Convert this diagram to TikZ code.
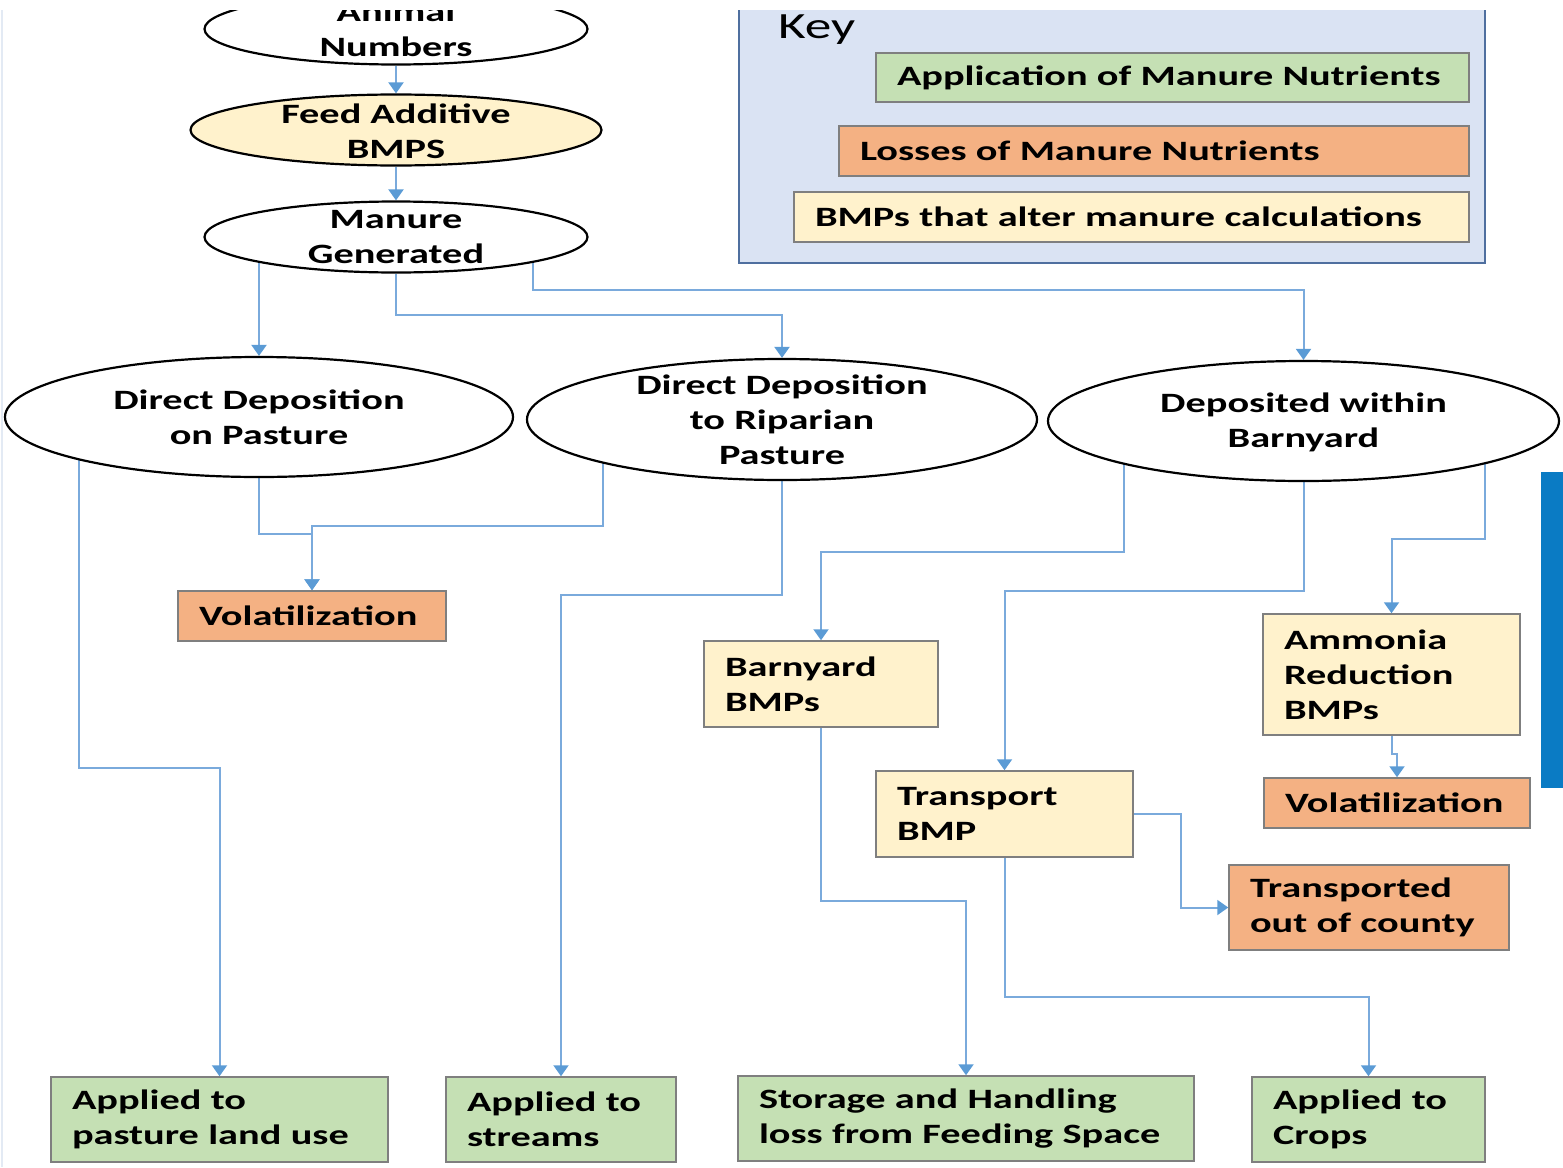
\documentclass[tikz,border=0pt]{standalone}
\usepackage{fontspec}
\setmainfont{Carlito}[FakeStretch=1.44]
\usetikzlibrary{arrows.meta,shapes.geometric}
\pgfdeclarelayer{bg}
\pgfsetlayers{bg,main}
\definecolor{gfill}{HTML}{C5E0B4}
\definecolor{ofill}{HTML}{F4B183}
\definecolor{yfill}{HTML}{FFF2CC}
\definecolor{keybg}{HTML}{DAE3F3}
\definecolor{keyline}{HTML}{4F6F9F}
\definecolor{boxline}{HTML}{7F7F7F}
\definecolor{connblue}{HTML}{7AAADC}
\definecolor{headblue}{HTML}{5B9BD5}
\definecolor{barblue}{HTML}{0A7BC4}
\definecolor{edgeline}{HTML}{E3EAF4}
\begin{document}
\begin{tikzpicture}[x=1pt,y=-1pt,
  ell/.style={ellipse, draw=black, line width=2.2pt, fill=white, inner sep=0pt},
  txt/.style={font=\fontsize{28}{35}\selectfont\bfseries, align=center, inner sep=0pt},
  lbox/.style={rectangle, draw=boxline, line width=1.5pt, inner xsep=21pt, inner ysep=0pt,
    align=left, font=\fontsize{28}{35}\selectfont\bfseries},
  conn/.style={draw=connblue, line width=2pt,
    -{Triangle[width=15pt,length=11pt,fill=headblue,color=headblue]}}]
\useasboundingbox (0,0) rectangle (1563,1167);
\begin{scope}
\clip (0,10) rectangle (1563,1167);
\draw[edgeline, line width=1.2pt] (2,10) -- (2,1167);
% Key
\node[rectangle, draw=keyline, fill=keybg, line width=2.5pt, minimum width=746pt, minimum height=273pt, inner sep=0pt] (key) at (1112,126.5) {};
\node[font=\fontsize{37}{40}\selectfont, anchor=west, inner sep=0pt] (keyt) at (778,30) {Key};
\node[lbox, fill=gfill, minimum width=593pt, minimum height=49pt, text width=551pt] (k1) at (1172.5,77.5) {\mbox{Application of Manure Nutrients}};
\node[lbox, fill=ofill, minimum width=630pt, minimum height=50pt, text width=588pt] (k2) at (1154,151) {\mbox{Losses of Manure Nutrients}};
\node[lbox, fill=yfill, minimum width=675pt, minimum height=50pt, text width=633pt] (k3) at (1131.5,217) {\mbox{BMPs that alter manure calculations}};
% ellipses
\node[ell, minimum width=383pt, minimum height=71pt] (an) at (396,29) {};
\node[txt] (ant) at (396,29.5) {Animal\\Numbers};
\node[ell, fill=yfill, minimum width=411pt, minimum height=71pt] (fa) at (396,130) {};
\node[txt] (fat) at (396,131.5) {Feed Additive\\BMPS};
\node[ell, minimum width=383pt, minimum height=71pt] (mg) at (396,237) {};
\node[txt] (mgt) at (396,237.5) {Manure\\Generated};
\node[ell, minimum width=508pt, minimum height=120pt] (ddp) at (259,417) {};
\node[txt] (ddpt) at (259,417.5) {Direct Deposition\\on Pasture};
\node[ell, minimum width=510pt, minimum height=121pt] (ddr) at (782,419.5) {};
\node[txt] (ddrt) at (782,420) {Direct Deposition\\to Riparian\\Pasture};
\node[ell, minimum width=511pt, minimum height=120pt] (dwb) at (1303.5,421) {};
\node[txt] (dwbt) at (1303.5,422.5) {Deposited within\\Barnyard};
% boxes
\node[lbox, fill=ofill, minimum width=268pt, minimum height=50pt, text width=226pt] (vol1) at (312,616) {\mbox{Volatilization}};
\node[lbox, fill=ofill, minimum width=266pt, minimum height=50pt, text width=224pt] (vol2) at (1397,803) {\mbox{Volatilization}};
\node[lbox, fill=yfill, minimum width=234pt, minimum height=86pt, text width=192pt] (bb) at (821,684) {\mbox{Barnyard}\\\mbox{BMPs}};
\node[lbox, fill=yfill, minimum width=257pt, minimum height=86pt, text width=215pt] (tb) at (1004.5,814) {\mbox{Transport}\\\mbox{BMP}};
\node[lbox, fill=yfill, minimum width=257pt, minimum height=121pt, text width=215pt] (ar) at (1391.5,674.5) {\mbox{Ammonia}\\\mbox{Reduction}\\\mbox{BMPs}};
\node[lbox, fill=ofill, minimum width=280pt, minimum height=85pt, text width=238pt] (toc) at (1369,907.5) {\mbox{Transported}\\\mbox{out of county}};
\node[lbox, fill=gfill, minimum width=337pt, minimum height=85pt, text width=295pt] (apl) at (219.5,1119.5) {\mbox{Applied to}\\\mbox{pasture land use}};
\node[lbox, fill=gfill, minimum width=230pt, minimum height=85pt, text width=188pt] (aps) at (561,1119.5) {\mbox{Applied to}\\\mbox{streams}};
\node[lbox, fill=gfill, minimum width=456pt, minimum height=85pt, text width=414pt] (shl) at (966,1118.5) {\mbox{Storage and Handling}\\\mbox{loss from Feeding Space}};
\node[lbox, fill=gfill, minimum width=233pt, minimum height=85pt, text width=191pt] (apc) at (1368.5,1119.5) {\mbox{Applied to}\\\mbox{Crops}};
% blue bar
\fill[barblue] (1541,472) rectangle (1563,788);
\end{scope}
% connectors
\begin{pgfonlayer}{bg}
\draw[conn] (an.south) -- (fa.north);
\draw[conn] (fa.south) -- (mg.north);
\draw[conn] (mg.center -| ddp.north) -- (ddp.north);
\draw[conn] (mg.south) |- ([yshift=43pt]ddr.north) -- (ddr.north);
\draw[conn] ([xshift=137pt]mg.center) |- ([yshift=70pt]dwb.north) -- (dwb.north);
\draw[conn] ([xshift=-180pt]ddp.center) |- ([yshift=308pt]apl.north) -- (apl.north);
\draw[conn] (ddp.south) |- ([yshift=56pt]vol1.north) -- (vol1.north);
\draw[conn] ([xshift=-179pt]ddr.center) |- ([yshift=64pt]vol1.north) -- (vol1.north);
\draw[conn] (ddr.south) |- ([yshift=481pt]aps.north) -- (aps.north);
\draw[conn] ([xshift=-180pt]dwb.center) |- ([yshift=88pt]bb.north) -- (bb.north);
\draw[conn] (dwb.south) |- ([yshift=179pt]tb.north) -- (tb.north);
\draw[conn] ([xshift=181pt]dwb.center) |- ([yshift=74pt]ar.north) -- (ar.north);
\draw[conn] (ar.south) |- ([yshift=23pt]vol2.north) -- (vol2.north);
\draw[conn] (bb.south) |- ([yshift=174pt]shl.north) -- (shl.north);
\draw[conn] (tb.east) -| ([xshift=-47pt]toc.west) -- (toc.west);
\draw[conn] (tb.south) |- ([yshift=79pt]apc.north) -- (apc.north);
\end{pgfonlayer}
\end{tikzpicture}
\end{document}
